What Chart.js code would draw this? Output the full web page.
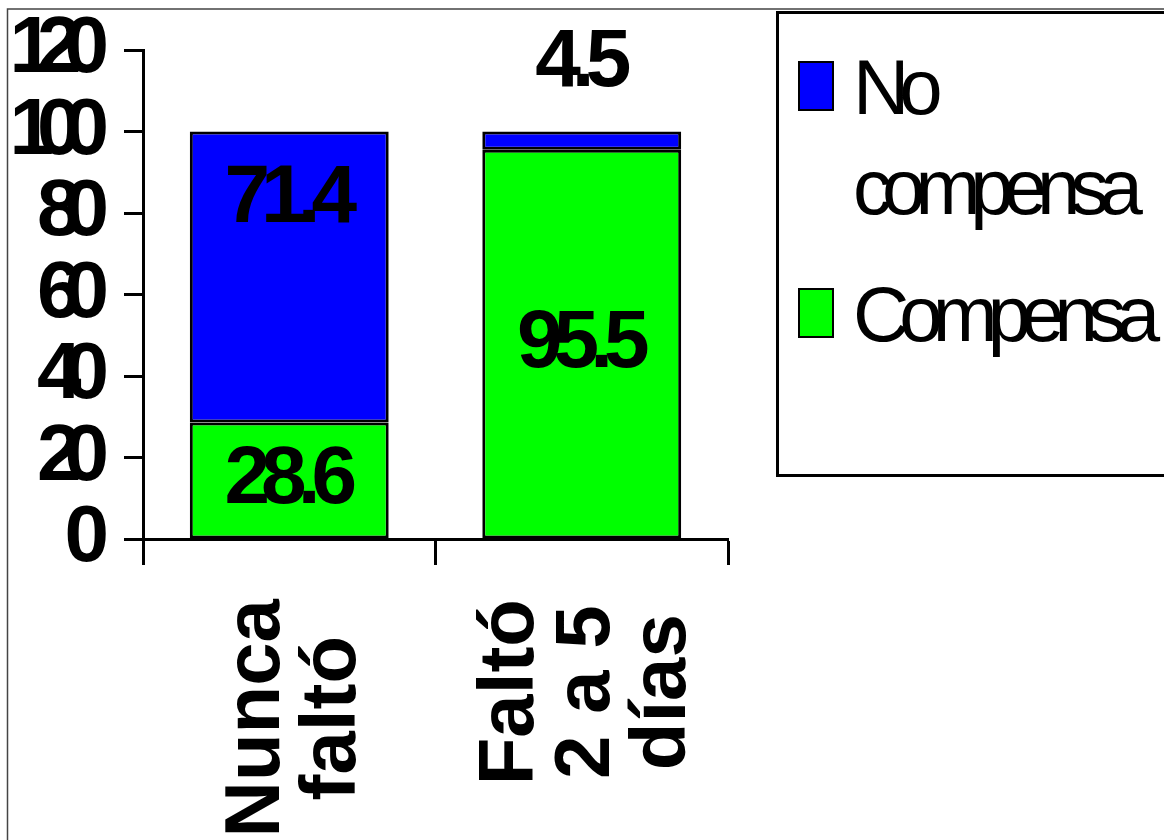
<html>
<head>
    <title>Compensa</title>
    <meta charset="utf-8">
    <style>
        body {
            margin: 0;
            padding: 0;
            background-color: #ffffff;
        }
        .wrap {
            width: 1164px;
            height: 840px;
            position: relative;
        }
    </style>
</head>
<body>
    <div class="wrap">
        <canvas id="chart"></canvas>
    </div>
    <script src="https://cdn.jsdelivr.net/npm/chart.js"></script>
    <script>
        // data
        const categories = [['Nunca', 'faltó'], ['Faltó', '2 a 5', 'días']];
        const compensa = [28.6, 95.5];
        const noCompensa = [71.4, 4.5];
        const seriesNames = ['Compensa', 'No compensa'];
        const seriesColors = ['#00ff00', '#0000ff'];
        const yMax = 120;
        const yStep = 20;

        const FONT = "'Liberation Sans', Arial, sans-serif";

        // white page + thin outer frame
        const framePlugin = {
            id: 'frame',
            beforeDraw(chart) {
                const ctx = chart.ctx;
                ctx.save();
                ctx.fillStyle = '#ffffff';
                ctx.fillRect(0, 0, chart.width, chart.height);
                ctx.restore();
                // squeezed digits on the y axis
                ctx.letterSpacing = '-17px';
            },
            afterDraw(chart) {
                const ctx = chart.ctx;
                ctx.save();
                ctx.letterSpacing = '0px';
                ctx.strokeStyle = '#444444';
                ctx.lineWidth = 1.5;
                ctx.strokeRect(7.5, 9, chart.width + 20, chart.height + 20);
                ctx.restore();
            }
        };

        // value labels on the bar segments
        const valuePlugin = {
            id: 'values',
            afterDatasetsDraw(chart) {
                const ctx = chart.ctx;
                ctx.save();
                ctx.letterSpacing = '-9px';
                ctx.font = 'bold 82px ' + FONT;
                ctx.fillStyle = '#000000';
                ctx.textAlign = 'center';
                ctx.textBaseline = 'middle';
                chart.data.datasets.forEach((ds, di) => {
                    const meta = chart.getDatasetMeta(di);
                    meta.data.forEach((bar, i) => {
                        const h = bar.base - bar.y;
                        let y = (bar.y + bar.base) / 2;
                        if (di === chart.data.datasets.length - 1) {
                            // top segment: near its top, or above the bar if too thin
                            y = h > 100 ? bar.y + 68 : bar.y - 68;
                        }
                        ctx.fillText(String(ds.data[i]), bar.x - 3, y);
                    });
                });
                ctx.restore();
            }
        };

        // rotated category labels, lines centred in the block
        const xLabelPlugin = {
            id: 'xlabels',
            afterDraw(chart) {
                const ctx = chart.ctx;
                const xs = chart.scales.x;
                const lineH = 76;
                ctx.save();
                ctx.letterSpacing = '0px';
                ctx.font = 'bold 78px ' + FONT;
                ctx.fillStyle = '#000000';
                ctx.textAlign = 'center';
                ctx.textBaseline = 'middle';
                categories.forEach((lines, i) => {
                    const x = xs.getPixelForTick(i);
                    const w = Math.max(...lines.map(l => ctx.measureText(l).width));
                    ctx.save();
                    ctx.translate(x, xs.top + 60);
                    ctx.rotate(-Math.PI / 2);
                    lines.forEach((l, k) => {
                        ctx.fillText(l, -w / 2, (k - (lines.length - 1) / 2) * lineH + 6);
                    });
                    ctx.restore();
                });
                ctx.restore();
            }
        };

        // boxed legend on the right
        const legendPlugin = {
            id: 'boxlegend',
            afterDraw(chart) {
                const ctx = chart.ctx;
                ctx.save();
                ctx.letterSpacing = '-10px';
                ctx.font = '78px ' + FONT;
                ctx.strokeStyle = '#000000';
                ctx.lineWidth = 3;
                ctx.strokeRect(777.5, 12.5, 450, 463);

                const items = chart.data.datasets.map(ds => ({ text: ds.label, color: ds.backgroundColor })).reverse();
                const maxW = 310;
                let base = 114;
                items.forEach(item => {
                    // simple word wrap
                    const words = item.text.split(' ');
                    const rows = [];
                    let cur = '';
                    words.forEach(w => {
                        const t = cur ? cur + ' ' + w : w;
                        if (cur && ctx.measureText(t).width > maxW) {
                            rows.push(cur);
                            cur = w;
                        } else {
                            cur = t;
                        }
                    });
                    rows.push(cur);

                    ctx.fillStyle = item.color;
                    ctx.fillRect(799, base - 52, 34, 48);
                    ctx.lineWidth = 2;
                    ctx.strokeRect(799, base - 52, 34, 48);

                    ctx.fillStyle = '#000000';
                    ctx.textAlign = 'left';
                    ctx.textBaseline = 'alphabetic';
                    rows.forEach((r, k) => {
                        ctx.fillText(r, 853, base + k * 100);
                    });
                    base += rows.length * 100 + 27;
                });
                ctx.restore();
            }
        };

        const ctx = document.getElementById('chart').getContext('2d');
        const chart = new Chart(ctx, {
            type: 'bar',
            data: {
                labels: categories,
                datasets: [
                    {
                        label: seriesNames[0],
                        data: compensa,
                        backgroundColor: seriesColors[0],
                        borderColor: '#000000',
                        borderWidth: 3,
                        borderSkipped: false,
                        categoryPercentage: 1,
                        barPercentage: 0.68
                    },
                    {
                        label: seriesNames[1],
                        data: noCompensa,
                        backgroundColor: seriesColors[1],
                        borderColor: '#000000',
                        borderWidth: 3,
                        borderSkipped: false,
                        categoryPercentage: 1,
                        barPercentage: 0.68
                    }
                ]
            },
            options: {
                responsive: true,
                maintainAspectRatio: false,
                animation: false,
                devicePixelRatio: 1,
                layout: {
                    padding: { top: 50, right: 436, bottom: 0, left: 0 }
                },
                scales: {
                    x: {
                        stacked: true,
                        afterFit(scale) {
                            scale.height = 301;
                            scale.paddingLeft = 0;
                            scale.paddingRight = 0;
                        },
                        ticks: { display: false },
                        grid: {
                            offset: true,
                            drawOnChartArea: false,
                            tickLength: 26,
                            tickColor: '#000000',
                            tickWidth: 3
                        },
                        border: { color: '#000000', width: 3 }
                    },
                    y: {
                        stacked: true,
                        min: 0,
                        max: yMax,
                        afterFit(scale) {
                            scale.width = 143;
                            scale.paddingTop = 0;
                            scale.paddingBottom = 0;
                        },
                        ticks: {
                            stepSize: yStep,
                            autoSkip: false,
                            padding: 32,
                            color: '#000000',
                            font: { family: FONT, size: 80, weight: 'bold' }
                        },
                        grid: {
                            drawOnChartArea: false,
                            tickLength: 19,
                            tickColor: '#000000',
                            tickWidth: 3
                        },
                        border: { color: '#000000', width: 3 }
                    }
                },
                plugins: {
                    legend: { display: false },
                    tooltip: { enabled: false }
                }
            },
            plugins: [framePlugin, valuePlugin, xLabelPlugin, legendPlugin]
        });
    </script>
</body>
</html>
